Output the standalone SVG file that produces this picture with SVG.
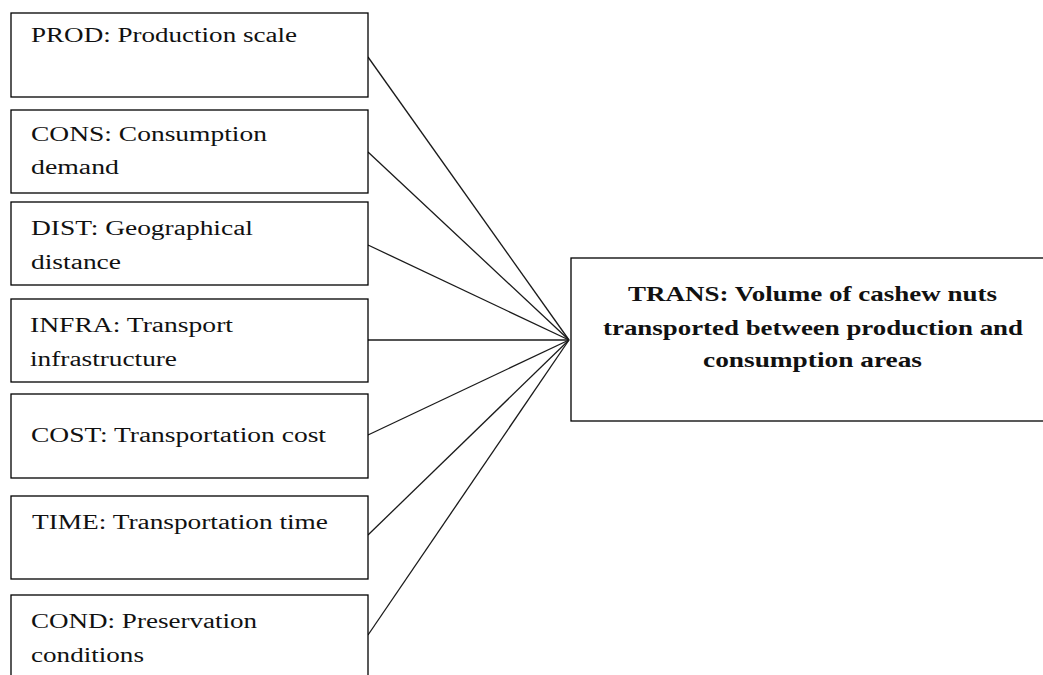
<svg xmlns="http://www.w3.org/2000/svg" width="1043" height="675" viewBox="0 0 1043 675">
<style>
.box{fill:#fff;stroke:#000;stroke-width:1.3}
.t{font-family:"Liberation Serif","Times New Roman",serif;font-size:20px;fill:#111}
.b{font-family:"Liberation Serif","Times New Roman",serif;font-size:22px;font-weight:bold;fill:#111}
.c{stroke:#1a1a1a;stroke-width:1.3;fill:none}
</style>
<rect width="1043" height="675" fill="#fff"/>
<g id="connectors">
<line class="c" x1="368" y1="57" x2="569" y2="340"/>
<line class="c" x1="368" y1="152" x2="569" y2="340"/>
<line class="c" x1="368" y1="245" x2="569" y2="340"/>
<line class="c" x1="368" y1="340" x2="569" y2="340"/>
<line class="c" x1="368" y1="435" x2="569" y2="340"/>
<line class="c" x1="368" y1="535" x2="569" y2="340"/>
<line class="c" x1="368" y1="635" x2="569" y2="340"/>
</g>
<g id="PROD">
<rect class="box" x="11" y="13" width="357" height="84"/>
<text class="t" x="31" y="42" textLength="266" lengthAdjust="spacingAndGlyphs">PROD: Production scale</text>
</g>
<g id="CONS">
<rect class="box" x="11" y="110" width="357" height="83"/>
<text class="t" x="31" y="141" textLength="236" lengthAdjust="spacingAndGlyphs">CONS: Consumption</text>
<text class="t" x="31" y="174" textLength="88" lengthAdjust="spacingAndGlyphs">demand</text>
</g>
<g id="DIST">
<rect class="box" x="11" y="202" width="357" height="83"/>
<text class="t" x="31" y="235" textLength="222" lengthAdjust="spacingAndGlyphs">DIST: Geographical</text>
<text class="t" x="31" y="269" textLength="90" lengthAdjust="spacingAndGlyphs">distance</text>
</g>
<g id="INFRA">
<rect class="box" x="11" y="299" width="357" height="83"/>
<text class="t" x="30" y="332" textLength="203" lengthAdjust="spacingAndGlyphs">INFRA: Transport</text>
<text class="t" x="30" y="366" textLength="147" lengthAdjust="spacingAndGlyphs">infrastructure</text>
</g>
<g id="COST">
<rect class="box" x="11" y="394" width="357" height="84"/>
<text class="t" x="31" y="442" textLength="295" lengthAdjust="spacingAndGlyphs">COST: Transportation cost</text>
</g>
<g id="TIME">
<rect class="box" x="11" y="496" width="357" height="83"/>
<text class="t" x="32" y="529" textLength="296" lengthAdjust="spacingAndGlyphs">TIME: Transportation time</text>
</g>
<g id="COND">
<rect class="box" x="11" y="595" width="357" height="110"/>
<text class="t" x="31" y="628" textLength="226" lengthAdjust="spacingAndGlyphs">COND: Preservation</text>
<text class="t" x="31" y="662" textLength="113" lengthAdjust="spacingAndGlyphs">conditions</text>
</g>
<g id="TRANS">
<rect class="box" x="571" y="258" width="483" height="163"/>
<text class="b" x="628" y="301" textLength="369" lengthAdjust="spacingAndGlyphs">TRANS: Volume of cashew nuts</text>
<text class="b" x="603" y="335" textLength="420" lengthAdjust="spacingAndGlyphs">transported between production and</text>
<text class="b" x="703" y="367" textLength="219" lengthAdjust="spacingAndGlyphs">consumption areas</text>
</g>
</svg>
